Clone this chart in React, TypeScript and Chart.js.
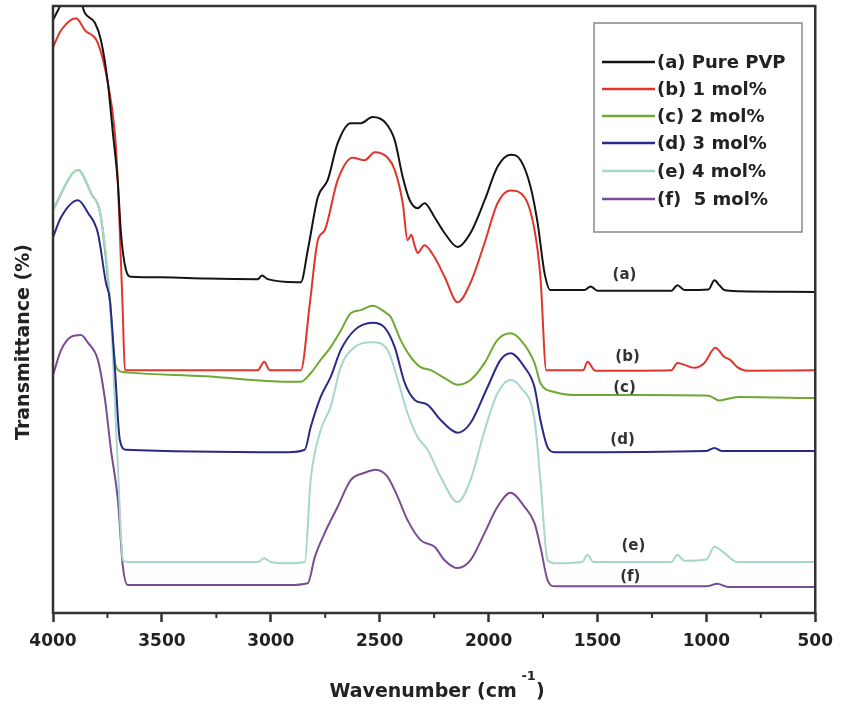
import React, { useEffect, useRef } from "react";
import { Chart, registerables } from "chart.js";

Chart.register(...registerables);

// ---------- data (wavenumber cm^-1, transmittance %) ----------
const seriesNames = ["(a) Pure PVP", "(b) 1 mol%", "(c) 2 mol%", "(d) 3 mol%", "(e) 4 mol%", "(f)  5 mol%"];
const curveTags = ["(a)", "(b)", "(c)", "(d)", "(e)", "(f)"];
const tagWave = [1376, 1362, 1376, 1385, 1335, 1349];
const tagT = [55.7, 42.2, 37.1, 28.5, 11.0, 5.9];
const seriesColors = ["#141414", "#e0342c", "#6fa832", "#2a2a86", "#a6d6cc", "#7a4d90"];
const drawOrder = [0, 1, 6, 2, 3, 4];

const majorTicks = [4000, 3500, 3000, 2500, 2000, 1500, 1000, 500];
const minorTicks = [3750, 3250, 2750, 2250, 1750, 1250, 750];

const purePVP: [number, number][] = [
  [4000, 97.7], [3977, 99.3], [3950, 101], [3880, 101.2], [3853, 98.8], [3807, 97.2], [3780, 94.4],
  [3748, 87.3], [3725, 79.1], [3702, 70.8], [3688, 62.6], [3665, 56.5], [3642, 55.4], [3500, 55.3],
  [3300, 55.1], [3060, 55.0], [3040, 55.6], [3015, 55.0], [2880, 54.5], [2862, 54.5], [2830, 59.8],
  [2784, 68.5], [2739, 71.3], [2693, 77.4], [2633, 80.7], [2587, 80.7], [2532, 81.7], [2472, 80.7],
  [2431, 77.9], [2394, 71.8], [2362, 68.0], [2326, 66.7], [2294, 67.5], [2248, 65.2], [2202, 62.6],
  [2142, 60.3], [2083, 62.6], [2018, 68.0], [1959, 73.5], [1899, 75.5], [1853, 74.6], [1807, 70.2],
  [1775, 64.3], [1743, 56.0], [1716, 53.2], [1560, 53.2], [1532, 53.8], [1500, 53.1], [1160, 53.1],
  [1133, 54.0], [1100, 53.2], [990, 53.3], [963, 54.8], [940, 54.0], [918, 53.2], [850, 53.0], [500, 52.9],
];

const mol1: [number, number][] = [
  [4000, 93.2], [3963, 96.0], [3894, 98.0], [3853, 96.0], [3794, 93.9], [3748, 87.3], [3716, 79.1],
  [3702, 70.8], [3693, 62.6], [3680, 50.0], [3670, 40.0], [3600, 40.0], [3060, 40.0], [3030, 41.4],
  [3005, 40.0], [2862, 40.0], [2821, 50.9], [2784, 61.4], [2752, 63.1], [2693, 71.3], [2624, 75.0],
  [2569, 74.6], [2523, 75.9], [2463, 75.0], [2431, 73.0], [2394, 67.5], [2372, 61.4], [2355, 62.3],
  [2340, 60.6], [2326, 59.3], [2294, 60.6], [2248, 58.6], [2202, 55.4], [2142, 51.2], [2083, 54.4],
  [2018, 61.0], [1959, 67.5], [1899, 69.6], [1835, 68.5], [1789, 63.1], [1762, 55.4], [1735, 40.0],
  [1600, 40.0], [1565, 40.0], [1546, 41.4], [1510, 39.9], [1160, 40.0], [1133, 41.2], [1055, 40.4],
  [1009, 41.2], [959, 43.7], [918, 42.2], [890, 41.7], [858, 40.5], [812, 39.9], [500, 40.0],
];

const mol2: [number, number][] = [
  [4000, 66.5], [3885, 73.0], [3826, 69.2], [3780, 65.2], [3739, 51.6], [3716, 41.5],
  [3700, 40.0], [3680, 39.7], [3656, 39.6], [3300, 39.0], [2922, 38.1], [2862, 38.1], [2817, 39.5],
  [2771, 41.7], [2725, 43.8], [2679, 46.5], [2633, 49.4], [2587, 49.9], [2532, 50.6], [2477, 49.6],
  [2450, 48.8], [2404, 45.0], [2358, 42.2], [2312, 40.5], [2266, 40.0], [2202, 38.7], [2142, 37.6],
  [2083, 38.4], [2018, 41.2], [1959, 45.0], [1899, 46.1], [1853, 45.0], [1789, 41.2], [1762, 37.9],
  [1697, 36.4], [1592, 35.9], [1317, 35.9], [990, 35.8], [940, 35.0], [900, 35.3], [850, 35.6], [500, 35.4],
];

const mol3: [number, number][] = [
  [4000, 61.9], [3963, 65.2], [3885, 68.0], [3839, 65.9], [3794, 62.6], [3757, 54.4], [3739, 51.6],
  [3716, 40.5], [3693, 28.5], [3665, 26.9], [2922, 26.5], [2844, 26.9], [2817, 30.6], [2771, 35.6],
  [2725, 38.9], [2679, 43.3], [2615, 46.6], [2532, 47.8], [2477, 47.0], [2431, 43.8], [2385, 37.9],
  [2339, 35.1], [2280, 34.3], [2220, 31.8], [2142, 29.7], [2083, 31.3], [2005, 37.2], [1945, 41.7],
  [1899, 42.8], [1835, 40.5], [1789, 37.2], [1762, 31.8], [1729, 27.3], [1697, 26.5], [1000, 26.7],
  [963, 27.2], [930, 26.7], [500, 26.7],
];

const mol4: [number, number][] = [
  [4000, 66.5], [3885, 73.0], [3826, 69.2], [3780, 65.2], [3739, 51.6], [3702, 24.1], [3679, 8.7],
  [3656, 8.4], [3060, 8.4], [3030, 9.0], [3000, 8.4], [2922, 8.2], [2844, 8.4], [2817, 21.9],
  [2771, 30.1], [2725, 34.0], [2679, 40.5], [2615, 43.8], [2532, 44.6], [2463, 43.3], [2417, 38.4],
  [2372, 32.9], [2326, 29.0], [2280, 26.9], [2220, 22.4], [2142, 18.3], [2083, 21.9], [2018, 30.1],
  [1959, 36.2], [1899, 38.4], [1853, 37.2], [1789, 31.8], [1762, 21.9], [1729, 8.7], [1697, 8.2],
  [1570, 8.4], [1546, 9.6], [1520, 8.4], [1160, 8.4], [1133, 9.6], [1100, 8.6], [1000, 8.8],
  [963, 10.9], [918, 9.9], [858, 8.4], [500, 8.4],
];

const mol5: [number, number][] = [
  [4000, 39.2], [3963, 43.3], [3917, 45.5], [3872, 45.8], [3839, 44.5], [3794, 41.7], [3761, 35.1],
  [3734, 26.9], [3702, 18.6], [3679, 7.6], [3656, 4.6], [2922, 4.6], [2830, 4.9], [2798, 9.2],
  [2752, 13.2], [2693, 17.5], [2633, 21.9], [2569, 23.1], [2518, 23.6], [2463, 22.4], [2417, 19.1],
  [2372, 15.3], [2312, 12.0], [2248, 10.9], [2202, 8.7], [2142, 7.4], [2083, 8.7], [2018, 13.2],
  [1959, 17.5], [1899, 19.8], [1835, 17.5], [1789, 14.8], [1762, 10.9], [1729, 5.4], [1697, 4.4],
  [1000, 4.4], [950, 4.8], [900, 4.3], [500, 4.3],
];

const allSeries = [purePVP, mol1, mol2, mol3, mol4, mol5];

const FONT = '"DejaVu Sans", "Liberation Sans", Arial, sans-serif';

const decorPlugin = {
  id: "decor",
  afterDraw(chart: any) {
    const { ctx, chartArea: ca, scales } = chart;
    const xs = scales.x;
    const ys = scales.y;
    ctx.save();
    // frame
    ctx.strokeStyle = "#333";
    ctx.lineWidth = 2.5;
    ctx.strokeRect(ca.left, ca.top, ca.right - ca.left, ca.bottom - ca.top);
    // minor ticks
    ctx.lineWidth = 2;
    for (const v of minorTicks) {
      const px = xs.getPixelForValue(v);
      ctx.beginPath();
      ctx.moveTo(px, ca.bottom);
      ctx.lineTo(px, ca.bottom + 5);
      ctx.stroke();
    }
    // curve tags
    ctx.fillStyle = "#333";
    ctx.font = `bold 15px ${FONT}`;
    ctx.textAlign = "center";
    ctx.textBaseline = "middle";
    curveTags.forEach((t, i) => {
      ctx.fillText(t, xs.getPixelForValue(tagWave[i]), ys.getPixelForValue(tagT[i]));
    });
    // legend box
    const bx = 594, by = 23, bw = 208, bh = 209;
    ctx.fillStyle = "#fff";
    ctx.fillRect(bx, by, bw, bh);
    ctx.strokeStyle = "#888";
    ctx.lineWidth = 1.5;
    ctx.strokeRect(bx, by, bw, bh);
    const rows = [62, 89, 116, 143, 171, 199];
    ctx.textAlign = "left";
    ctx.font = `bold 18px ${FONT}`;
    seriesNames.forEach((n, i) => {
      ctx.strokeStyle = seriesColors[i];
      ctx.lineWidth = 2.5;
      ctx.beginPath();
      ctx.moveTo(602, rows[i]);
      ctx.lineTo(655, rows[i]);
      ctx.stroke();
      ctx.fillStyle = "#222";
      ctx.fillText(n, 657, rows[i] + 1);
    });
    // y title
    ctx.save();
    ctx.translate(24, 342);
    ctx.rotate(-Math.PI / 2);
    ctx.textAlign = "center";
    ctx.font = `bold 19px ${FONT}`;
    ctx.fillStyle = "#222";
    ctx.fillText("Transmittance (%)", 0, 0);
    ctx.restore();
    // x title with superscript
    ctx.textBaseline = "alphabetic";
    ctx.fillStyle = "#222";
    const mainFont = `bold 19px ${FONT}`;
    const supFont = `bold 13px ${FONT}`;
    ctx.font = mainFont;
    const p1 = "Wavenumber (cm ";
    const p3 = ")";
    const w1 = ctx.measureText(p1).width;
    const w3 = ctx.measureText(p3).width;
    ctx.font = supFont;
    const p2 = "-1";
    const w2 = ctx.measureText(p2).width;
    const total = w1 + w2 + w3;
    let sx = 438 - total / 2;
    const base = 697;
    ctx.font = mainFont;
    ctx.fillText(p1, sx, base);
    sx += w1;
    ctx.font = supFont;
    ctx.fillText(p2, sx - 2, base - 17);
    sx += w2;
    ctx.font = mainFont;
    ctx.fillText(p3, sx - 2, base);
    ctx.restore();
  },
};

export default function App() {
  const ref = useRef<HTMLCanvasElement>(null);
  useEffect(() => {
    if (!ref.current) return;
    const chart = new Chart(ref.current, {
      type: "line",
      data: {
        datasets: allSeries.map((s, i) => ({
          label: seriesNames[i],
          data: s.map(([x, y]) => ({ x, y })),
          borderColor: seriesColors[i],
          backgroundColor: seriesColors[i],
          borderWidth: 2,
          pointRadius: 0,
          cubicInterpolationMode: "monotone",
          fill: false,
          order: drawOrder[i],
        })),
      },
      options: {
        animation: false,
        responsive: false,
        maintainAspectRatio: false,
        layout: { padding: { top: 6, right: 24, left: 0, bottom: 0 } },
        plugins: { legend: { display: false }, tooltip: { enabled: false } },
        scales: {
          x: {
            type: "linear",
            reverse: true,
            min: 500,
            max: 4000,
            afterBuildTicks: (s: any) => {
              s.ticks = majorTicks.map((v) => ({ value: v }));
            },
            ticks: {
              font: { family: FONT, size: 17, weight: "bold" },
              color: "#222",
              padding: 9,
              maxRotation: 0,
              autoSkip: false,
              callback: (v: any) => String(v),
            },
            grid: {
              drawOnChartArea: false,
              drawTicks: true,
              tickLength: 9,
              tickColor: "#333",
              tickWidth: 2.5,
            },
            border: { display: false },
            afterFit: (s: any) => {
              s.height = 96;
            },
          },
          y: {
            min: 0,
            max: 100,
            ticks: { display: false },
            grid: { display: false },
            border: { display: false },
            afterFit: (s: any) => {
              s.width = 53;
            },
          },
        },
      },
      plugins: [decorPlugin],
    } as any);
    return () => chart.destroy();
  }, []);
  return (
    <div style={{ position: "fixed", left: 0, top: 0, width: 842, height: 709, background: "#fff" }}>
      <canvas ref={ref} width={842} height={709} style={{ width: 842, height: 709 }} />
    </div>
  );
}
